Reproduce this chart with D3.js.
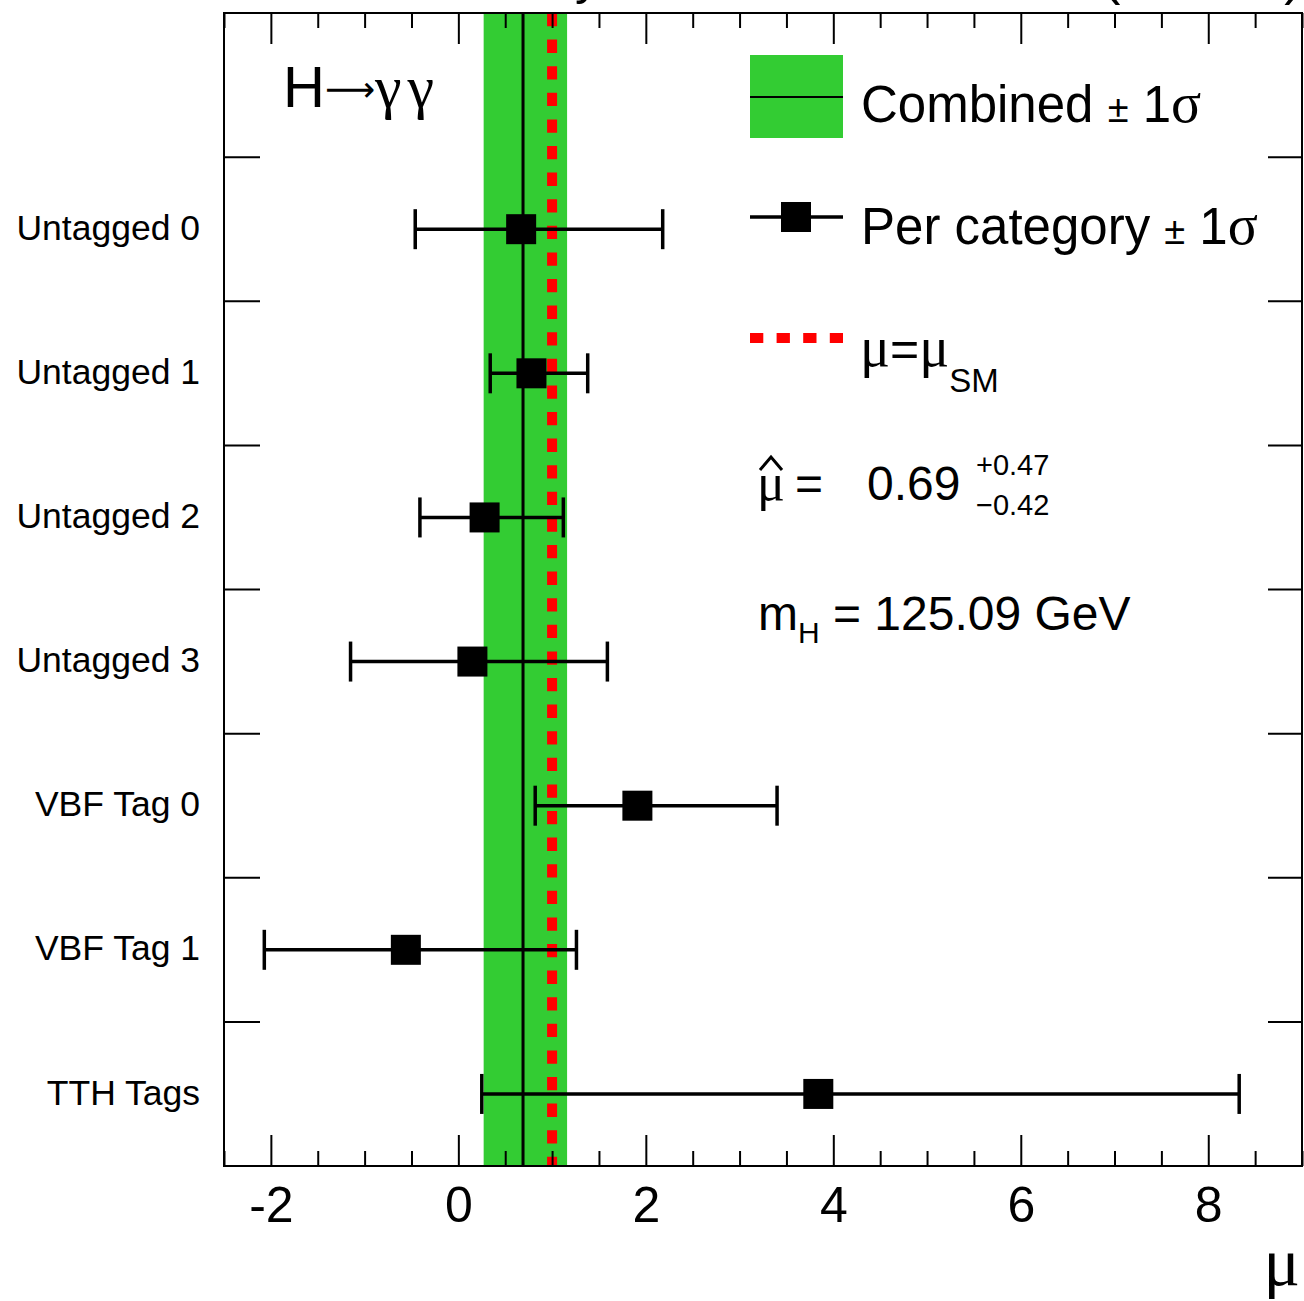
<!DOCTYPE html>
<html lang="en">

<head>
    <meta charset="UTF-8">
    <title>H to gamma gamma signal strength</title>
    <style>
    body {
        margin: 0;
        background: #ffffff;
        overflow: hidden;
    }

    text {
        font-family: "Liberation Sans", Arial, sans-serif;
        fill: #000;
    }

    .greek {
        font-family: "Liberation Serif", "DejaVu Serif", serif;
    }
    </style>
</head>

<body>
    <svg id="chart" width="1304" height="1301"></svg>
    <script src="https://d3js.org/d3.v7.min.js"></script>
    <script>
    // categories, top to bottom
    const categories = ["Untagged 0", "Untagged 1", "Untagged 2", "Untagged 3", "VBF Tag 0", "VBF Tag 1", "TTH Tags"];
    const muBest = [0.67, 0.78, 0.28, 0.15, 1.91, -0.56, 3.84];
    const muLow = [-0.46, 0.34, -0.41, -1.15, 0.82, -2.07, 0.25];
    const muHigh = [2.18, 1.38, 1.12, 1.59, 3.40, 1.26, 8.33];

    const combined = 0.69;
    const combinedUp = 0.47;
    const combinedDown = 0.42;
    const muSM = 1;

    const xMajor = [-2, 0, 2, 4, 6, 8];
    const xMinor = d3.range(-2.5, 9.01, 0.5).filter(v => !xMajor.includes(v));

    const svg = d3.select("#chart");
    const pLeft = 224, pRight = 1302, pTop = 13, pBottom = 1166;

    const x = d3.scaleLinear().domain([-2.5, 9]).range([pLeft, pRight]);
    // first band is left empty for the legend
    const y = d3.scaleBand().domain(["", ...categories]).range([pTop, pBottom]);
    const yc = c => y(c) + y.bandwidth() / 2;

    const rows = categories.map((c, i) => ({ cat: c, val: muBest[i], lo: muLow[i], hi: muHigh[i] }));

    // combined band
    svg.append("rect")
        .attr("x", x(combined - combinedDown))
        .attr("y", pTop)
        .attr("width", x(combined + combinedUp) - x(combined - combinedDown))
        .attr("height", pBottom - pTop)
        .attr("fill", "#33cc33");

    svg.append("line")
        .attr("x1", x(combined)).attr("x2", x(combined))
        .attr("y1", pTop).attr("y2", pBottom)
        .attr("stroke", "#000").attr("stroke-width", 3);

    svg.append("line")
        .attr("x1", x(muSM)).attr("x2", x(muSM))
        .attr("y1", pTop).attr("y2", pBottom)
        .attr("stroke", "#ff0000").attr("stroke-width", 10)
        .attr("stroke-dasharray", "13.3 13.3");

    // per-category points
    const g = svg.append("g");
    g.selectAll(".bar").data(rows).enter().append("line")
        .attr("x1", d => x(d.lo)).attr("x2", d => x(d.hi))
        .attr("y1", d => yc(d.cat)).attr("y2", d => yc(d.cat))
        .attr("stroke", "#000").attr("stroke-width", 3.5);
    g.selectAll(".capl").data(rows).enter().append("line")
        .attr("x1", d => x(d.lo)).attr("x2", d => x(d.lo))
        .attr("y1", d => yc(d.cat) - 20).attr("y2", d => yc(d.cat) + 20)
        .attr("stroke", "#000").attr("stroke-width", 3.5);
    g.selectAll(".caph").data(rows).enter().append("line")
        .attr("x1", d => x(d.hi)).attr("x2", d => x(d.hi))
        .attr("y1", d => yc(d.cat) - 20).attr("y2", d => yc(d.cat) + 20)
        .attr("stroke", "#000").attr("stroke-width", 3.5);
    g.selectAll(".pt").data(rows).enter().append("rect")
        .attr("x", d => x(d.val) - 15).attr("y", d => yc(d.cat) - 15)
        .attr("width", 30).attr("height", 30)
        .attr("fill", "#000");

    // x axes, ticks pointing inward
    const xBottom = svg.append("g").attr("transform", `translate(0,${pBottom})`)
        .call(d3.axisBottom(x).tickValues(xMajor).tickSizeInner(-31).tickSizeOuter(0).tickPadding(20)
            .tickFormat(d => d < 0 ? "-" + Math.abs(d) : d));
    xBottom.selectAll("text").attr("font-size", 50).style("font-family", "'Liberation Sans', Arial, sans-serif");
    svg.append("g").attr("transform", `translate(0,${pBottom})`)
        .call(d3.axisBottom(x).tickValues(xMinor).tickSizeInner(-15).tickSizeOuter(0).tickFormat(""));
    svg.append("g").attr("transform", `translate(0,${pTop})`)
        .call(d3.axisTop(x).tickValues(xMajor).tickSizeInner(-31).tickSizeOuter(0).tickFormat(""));
    svg.append("g").attr("transform", `translate(0,${pTop})`)
        .call(d3.axisTop(x).tickValues(xMinor).tickSizeInner(-15).tickSizeOuter(0).tickFormat(""));

    // y labels
    const yAxis = svg.append("g").attr("transform", `translate(${pLeft},0)`)
        .call(d3.axisLeft(y).tickValues(categories).tickSize(0).tickPadding(24).offset(0));
    yAxis.selectAll("text").attr("font-size", 35.5).attr("dy", "0.3em")
        .style("font-family", "'Liberation Sans', Arial, sans-serif");
    svg.selectAll(".domain").remove();
    svg.selectAll(".tick line").attr("stroke-width", 2);
    // boundary ticks between categories, both sides
    svg.append("g").selectAll("line").data(categories).enter().append("line")
        .attr("x1", pLeft).attr("x2", pLeft + 36)
        .attr("y1", d => y(d)).attr("y2", d => y(d))
        .attr("stroke", "#000").attr("stroke-width", 2);
    svg.append("g").selectAll("line").data(categories).enter().append("line")
        .attr("x1", pRight - 34).attr("x2", pRight)
        .attr("y1", d => y(d)).attr("y2", d => y(d))
        .attr("stroke", "#000").attr("stroke-width", 2);

    // frame
    svg.append("rect")
        .attr("x", pLeft).attr("y", pTop)
        .attr("width", pRight - pLeft).attr("height", pBottom - pTop)
        .attr("fill", "none").attr("stroke", "#000").attr("stroke-width", 2);

    // title, cut off at the top as in the original
    svg.append("text").attr("x", 600).attr("y", -6).attr("text-anchor", "end")
        .attr("font-size", 50).text("CMS Preliminary");
    svg.append("text").attr("x", 1302).attr("y", -6).attr("text-anchor", "end")
        .attr("font-size", 53).text("2.7 fb⁻¹ (13 TeV)");

    // axis title
    svg.append("text").attr("class", "greek").attr("x", 1300).attr("y", 1285)
        .attr("text-anchor", "end").attr("font-size", 68).text("μ");

    // process label
    const hl = svg.append("text").attr("x", 283).attr("y", 107).attr("font-size", 58);
    hl.append("tspan").text("H");
    hl.append("tspan").style("font-family", "'DejaVu Sans', sans-serif").attr("font-size", 35).attr("dy", -6).text("⟶");
    hl.append("tspan").attr("class", "greek").attr("font-size", 60).attr("letter-spacing", 6).attr("dy", 6).text("γγ");

    // legend
    const lg = svg.append("g");
    lg.append("rect").attr("x", 750).attr("y", 55).attr("width", 93).attr("height", 83).attr("fill", "#33cc33");
    lg.append("line").attr("x1", 750).attr("x2", 843).attr("y1", 97).attr("y2", 97)
        .attr("stroke", "#000").attr("stroke-width", 2);
    const t1 = lg.append("text").attr("x", 861).attr("y", 122).attr("font-size", 51);
    t1.append("tspan").text("Combined ");
    t1.append("tspan").attr("font-size", 38).text("±");
    t1.append("tspan").text(" 1");
    t1.append("tspan").attr("class", "greek").attr("font-size", 56).text("σ");

    lg.append("line").attr("x1", 750).attr("x2", 843).attr("y1", 217).attr("y2", 217)
        .attr("stroke", "#000").attr("stroke-width", 3.5);
    lg.append("rect").attr("x", 781).attr("y", 202).attr("width", 30).attr("height", 30).attr("fill", "#000");
    const t2 = lg.append("text").attr("x", 861).attr("y", 244).attr("font-size", 51);
    t2.append("tspan").text("Per category ");
    t2.append("tspan").attr("font-size", 38).text("±");
    t2.append("tspan").text(" 1");
    t2.append("tspan").attr("class", "greek").attr("font-size", 56).text("σ");

    lg.append("line").attr("x1", 750).attr("x2", 843).attr("y1", 338).attr("y2", 338)
        .attr("stroke", "#ff0000").attr("stroke-width", 10).attr("stroke-dasharray", "13.3 13.3");
    const t3 = lg.append("text").attr("x", 860).attr("y", 366).attr("font-size", 50);
    t3.append("tspan").attr("class", "greek").attr("font-size", 56).text("μ");
    t3.append("tspan").text("=");
    t3.append("tspan").attr("class", "greek").attr("font-size", 56).text("μ");
    t3.append("tspan").attr("font-size", 33).attr("dy", 26).text("SM");

    // fit result
    svg.append("text").attr("class", "greek").attr("x", 757).attr("y", 500).attr("font-size", 52).text("μ");
    svg.append("path").attr("d", "M760,470 L771,457 L782,470")
        .attr("fill", "none").attr("stroke", "#000").attr("stroke-width", 3);
    svg.append("text").attr("x", 795).attr("y", 500).attr("font-size", 48).text("=");
    svg.append("text").attr("x", 867).attr("y", 500).attr("font-size", 48).text(combined.toFixed(2));
    svg.append("text").attr("x", 976).attr("y", 475).attr("font-size", 29).text("+" + combinedUp.toFixed(2));
    svg.append("text").attr("x", 976).attr("y", 515).attr("font-size", 29).text("−" + combinedDown.toFixed(2));

    const mh = svg.append("text").attr("x", 758).attr("y", 630).attr("font-size", 48);
    mh.append("tspan").text("m");
    mh.append("tspan").attr("font-size", 30).attr("dy", 13).text("H");
    mh.append("tspan").attr("dy", -13).text(" = 125.09 GeV");
    </script>
</body>

</html>
